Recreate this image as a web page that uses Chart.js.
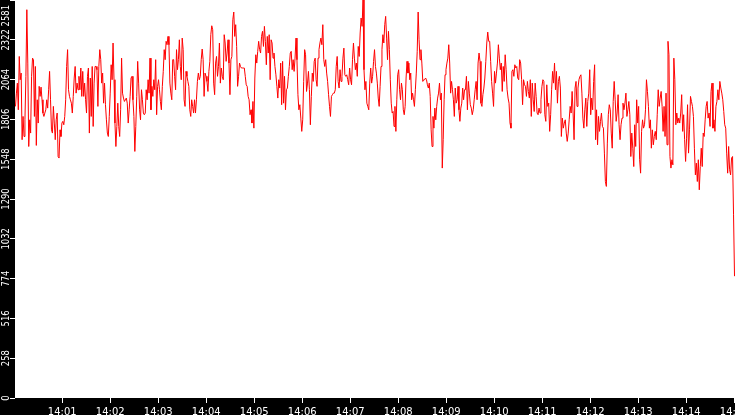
<!DOCTYPE html>
<html><head><meta charset="utf-8">
<style>html,body{margin:0;padding:0;background:#000;overflow:hidden}canvas{display:block}</style>
<script src="https://cdn.jsdelivr.net/npm/chart.js@4/dist/chart.umd.min.js"></script>
</head><body>
<canvas id="c" width="735" height="415"></canvas>
<script>
// Values sampled across eight consecutive 112.5-second spans (14:00:01 – 14:15:01)
const seg1 = [1891,1977,2042,1869,2215,2064,2107,1675,1826,1696,1804,2086,2518,2172,1631,1804,1718,2086,2204,2194,1826,2150,1638,1934,1783,2021,1956,2016,1934,1848,1826,1848,1869,1934,1880,1999,2118,1934,1739,1718,1891,1783,1675,1804,1848,1566,1556,1739,1696,1783,1794,1772,1826,1934,2150,2259,1999,1956,1934,1912,1848,1956,2075,2150,1977,2042,1999,2086,1999,2140,1956,2118,1956,2042,1934,1848,2086,2140,1718,2075,1826,2150,1761,2042,2150,2150,2129,1891,2150,2259,2194,2042,2107,1912,2042];
const seg2 = [1902,1804,1718,1696,1826,1977,2161,2064,2302,2064,1783,1631,1761,1912,1761,1696,1869,2204,1977,1945,1923,1934,1945,1912,1783,1869,1956,2075,2086,1934,1826,1599,1761,1956,2183,2042,1869,1804,1999,1934,1848,1837,1848,1999,1934,2064,1977,2204,1869,2021,1956,2064,1999,2194,1837,2021,2064,1999,1923,1869,2021,2118,2259,2194,2313,2291,2345,2291,2042,1977,1934,2194,2194,2086,1999,2259,2129,2194,2323,2150,2064,2334,2259,1934,1891,2118,2086,2053,2021,1869,1826,1934,1891,1848,1934];
const seg3 = [1848,1934,2053,2107,2064,2086,2194,2263,2194,1956,2107,2086,2053,1988,2118,2183,2356,2414,2388,2042,1967,2172,2215,2086,2150,2302,2042,2140,2086,2064,2356,2302,2183,2237,2323,2172,1967,2194,2215,2453,2503,2345,2421,2280,2021,2086,2172,2150,2140,2140,2140,2140,2086,2031,2021,1956,1934,1837,1869,1783,1923,1750,2075,2226,2172,2248,2313,2259,2237,2345,2378,2280,2410,2313,2161,2345,2237,2356,2064,2323,2302,2204,2237,2150,2096,2021,1945,2064,2010,2172,1902,2183,1912,2086];
const seg4 = [1869,1999,2010,2086,2150,2237,2248,2129,2194,2118,2204,2334,2194,1967,1869,1902,1815,1729,1804,2053,2259,2226,1988,2042,2118,1999,1772,1956,2107,2053,2183,2204,2064,2021,2204,2259,2302,2334,2291,2421,2194,2150,2194,2107,2053,1967,1891,1826,1956,1967,1977,1977,1999,2150,2215,2053,2010,2129,2053,2086,2204,2269,2096,2086,2096,2064,2031,2140,2064,2031,2194,2302,2204,2129,2172,2086,2280,2215,2367,2464,2410,2581,2129,1999,2053,1912,1891,1869,2042,2140,2042,2086,2183,2259];
const seg5 = [2150,2107,2042,1945,1891,2021,2150,2259,2356,2302,2421,2475,2334,2194,2378,2259,2064,1912,1848,1858,1761,1891,1729,1934,2096,2129,1999,1934,2042,1999,1869,1837,1891,2075,2183,2107,2172,2064,2107,1934,1977,1934,1891,1999,2107,2248,2503,2323,2194,2259,2172,2053,2064,2064,2075,2064,2031,2010,2042,1956,1739,1631,1826,1750,1880,1804,1891,1945,1977,2042,1934,1977,1491,1675,1934,2096,2129,2172,2204,2291,2172,1977,2053,1999,1934,1826,2010,1912,1934,2021,1869,1794,1880,1912,2010,1934,1999];
const seg6 = [1999,2086,1869,2053,1977,1902,1880,1837,1869,1934,1999,2053,1934,2172,2237,2183,1912,1891,1967,2010,2075,2183,2302,2373,2313,2313,2183,2053,1977,1891,2118,2042,2107,2172,2291,2204,2129,2172,1988,2150,2053,2226,2129,1999,1945,1912,1783,1750,2118,2129,2086,2161,2140,2150,2075,2064,2194,2172,2064,1902,2064,2031,2021,1956,2053,1988,1945,2064,1826,2042,1934,1858,2042,1956,1848,1837,1880,1848,1934,2021,2064,2053,1837,1794,2031,1891,1912,1729,1837,1999,2118,2042,2172];
const seg7 = [1999,2118,1912,2053,2086,2010,1696,1815,1750,1783,1804,1718,1664,1718,1804,1891,1848,1988,1848,1675,2010,2053,1891,2010,2064,2086,2096,1977,1815,1750,1869,1945,1761,1923,1977,2129,1837,1945,1869,2053,2161,1675,1869,1642,1826,1729,1794,1848,1761,1750,1588,1404,1372,1653,1837,1902,1869,1718,1620,1923,2053,1934,1794,1848,1967,1772,1675,1772,1815,1912,1869,1912,1977,1826,1869,1923,1837,1566,1718,1620,1501,1772,1631,1934,1783,1891,1545,1458,1729,1804,1750,1772];
const seg8 = [1869,2064,1988,1891,1750,1804,1620,1739,1642,1696,1729,1675,1837,1999,1891,1945,1988,1891,1729,1891,1696,1977,1642,2313,2226,1566,1491,1545,1512,2204,2064,1772,1848,1783,1815,1783,1848,1967,1729,1837,1675,1534,1685,1902,1588,1739,1956,1923,1891,1826,1620,1447,1523,1404,1545,1350,1501,1620,1501,1718,1696,1804,1891,1923,1815,1848,1761,1988,2042,1750,1804,1729,1891,1923,1999,1934,2053,2010,1977,1934,1858,1772,1750,1588,1458,1631,1480,1447,1556,1566,1188,790];

// Axis (seconds after 14:00:00)
const xStart = 1;
const xEnd = 901;
const xTickValues = [60,120,180,240,300,360,420,480,540,600,660,720,780,840,900];
const xTickLabels = ['14:01','14:02','14:03','14:04','14:05','14:06','14:07','14:08','14:09','14:10','14:11','14:12','14:13','14:14','14:15'];
const yMax = 2581;
const yTickValues = [0,258.1,516.2,774.3,1032.4,1290.5,1548.6,1806.7,2064.8,2322.9,2581];
const yTickLabels = ['0','258','516','774','1032','1290','1548','1806','2064','2322','2581'];

const segments = [seg1,seg2,seg3,seg4,seg5,seg6,seg7,seg8];
const segSpan = (xEnd - xStart) / segments.length;
const points = [];
segments.forEach((seg, k) => seg.forEach((v, i) => {
  points.push({x: xStart + segSpan * (k + (i + 0.5) / seg.length), y: v});
}));

const bgPlugin = {
  id: 'bg',
  beforeDraw(chart) {
    const {ctx, chartArea: a} = chart;
    ctx.save();
    ctx.fillStyle = '#000';
    ctx.fillRect(0, 0, chart.width, chart.height);
    ctx.fillStyle = '#fff';
    ctx.fillRect(a.left, a.top, a.right - a.left, a.bottom - a.top);
    ctx.restore();
  }
};
const yLabelPlugin = {
  id: 'ylabels',
  afterDraw(chart) {
    const s = chart.scales.y;
    const ctx = chart.ctx;
    ctx.save();
    ctx.fillStyle = '#fff';
    ctx.font = '10.5px "DejaVu Sans"';
    ctx.textAlign = 'center';
    ctx.textBaseline = 'middle';
    const sx = 0.8;
    yTickValues.forEach((v, i) => {
      const lab = yTickLabels[i];
      const w = ctx.measureText(lab).width * sx;
      let py = s.getPixelForValue(v);
      py = Math.max(py, w / 2 + 5);
      ctx.save();
      ctx.translate(s.left + 6, py);
      ctx.rotate(-Math.PI / 2);
      ctx.scale(sx, 1);
      ctx.fillText(lab, 0, 0);
      ctx.restore();
    });
    ctx.restore();
  }
};

new Chart(document.getElementById('c'), {
  type: 'line',
  data: {
    datasets: [{
      data: points,
      borderColor: '#ff0000',
      borderWidth: 1,
      pointRadius: 0,
      tension: 0,
      fill: false
    }]
  },
  options: {
    responsive: false,
    animation: false,
    devicePixelRatio: 1,
    layout: {padding: 0},
    plugins: {legend: {display: false}, tooltip: {enabled: false}},
    scales: {
      x: {
        type: 'linear',
        min: xStart,
        max: xEnd,
        afterBuildTicks: s => { s.ticks = xTickValues.map(v => ({value: v})); },
        ticks: {
          color: '#fff',
          font: {family: 'DejaVu Sans', size: 10},
          minRotation: 0, maxRotation: 0,
          autoSkip: false,
          padding: 3,
          callback: (v, i) => xTickLabels[i]
        },
        grid: {drawOnChartArea: false, drawTicks: true, tickLength: 5, color: '#fff', lineWidth: 1},
        border: {display: false},
        afterFit: s => { s.height = 17; s.paddingLeft = 0; s.paddingRight = 0; }
      },
      y: {
        min: 0,
        max: yMax,
        afterBuildTicks: s => { s.ticks = yTickValues.map(v => ({value: v})); },
        ticks: {display: false},
        grid: {drawOnChartArea: false, drawTicks: true, tickLength: 5, color: '#fff', lineWidth: 1},
        border: {display: false},
        afterFit: s => { s.width = 15; s.paddingTop = 0; s.paddingBottom = 0; }
      }
    }
  },
  plugins: [bgPlugin, yLabelPlugin]
});
</script>
</body></html>
